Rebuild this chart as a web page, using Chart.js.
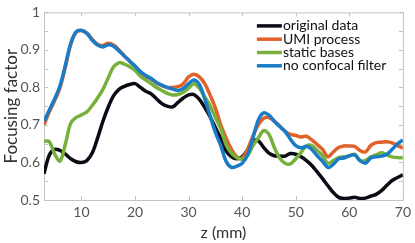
<!DOCTYPE html>
<html>
<head>
<meta charset="utf-8">
<script src="https://cdn.jsdelivr.net/npm/chart.js@4/dist/chart.umd.min.js"></script>
<style>
  html, body { margin: 0; padding: 0; background: #fff; }
  #wrap { width: 415px; height: 243px; }
</style>
</head>
<body>
<div id="wrap"><canvas id="focusChart" width="415" height="243"></canvas></div>
<script>
// z positions (mm)
const zValues = [3,4,5,6,7,8,9,10,11,12,13,14,15,16,17,18,19,20,21,22,23,24,25,26,27,28,29,30,
  31,32,33,34,35,36,37,38,39,40,41,42,43,44,45,46,47,48,49,50,51,52,53,54,55,56,57,58,59,60,
  61,62,63,64,65,66,67,68,69,70];

const originalData = [0.57,0.62,0.635,0.632,0.622,0.61,0.602,0.60,0.605,0.625,0.665,0.71,0.748,0.778,
  0.795,0.803,0.808,0.81,0.80,0.79,0.783,0.77,0.757,0.75,0.748,0.76,0.772,0.78,0.781,0.768,0.747,
  0.722,0.693,0.663,0.63,0.615,0.61,0.615,0.633,0.658,0.658,0.64,0.625,0.618,0.617,0.617,0.624,
  0.622,0.615,0.605,0.592,0.575,0.557,0.538,0.52,0.507,0.504,0.505,0.507,0.504,0.505,0.51,0.515,
  0.525,0.539,0.552,0.56,0.567];

const umiProcess = [0.70,0.735,0.765,0.80,0.855,0.915,0.947,0.952,0.945,0.928,0.915,0.912,0.918,0.913,
  0.90,0.884,0.87,0.855,0.84,0.83,0.822,0.812,0.805,0.80,0.80,0.802,0.81,0.828,0.835,0.828,0.81,
  0.78,0.745,0.70,0.665,0.635,0.615,0.612,0.635,0.67,0.70,0.718,0.72,0.71,0.697,0.683,0.675,
  0.672,0.668,0.67,0.66,0.648,0.635,0.615,0.628,0.64,0.644,0.644,0.643,0.632,0.628,0.645,0.653,
  0.654,0.655,0.652,0.645,0.638];

const staticBases = [0.657,0.655,0.622,0.604,0.65,0.705,0.72,0.727,0.735,0.752,0.772,0.795,0.826,0.855,
  0.866,0.862,0.855,0.845,0.83,0.82,0.81,0.80,0.792,0.784,0.78,0.781,0.787,0.798,0.81,0.798,0.775,
  0.752,0.72,0.69,0.647,0.625,0.613,0.609,0.618,0.645,0.665,0.685,0.675,0.64,0.612,0.598,0.596,
  0.61,0.627,0.644,0.645,0.632,0.618,0.598,0.605,0.613,0.615,0.617,0.622,0.605,0.605,0.615,0.62,
  0.626,0.62,0.615,0.613,0.613];

const noConfocal = [0.709,0.74,0.77,0.805,0.86,0.918,0.948,0.952,0.944,0.926,0.913,0.908,0.914,0.91,
  0.897,0.884,0.87,0.857,0.842,0.832,0.824,0.813,0.806,0.80,0.796,0.792,0.797,0.81,0.82,0.808,0.77,
  0.725,0.68,0.645,0.603,0.587,0.59,0.598,0.62,0.665,0.713,0.732,0.726,0.71,0.696,0.683,0.662,
  0.645,0.639,0.643,0.635,0.618,0.603,0.587,0.595,0.61,0.612,0.618,0.62,0.605,0.598,0.612,0.615,
  0.617,0.622,0.635,0.65,0.66];

const seriesLabels = ['original data', 'UMI process', 'static bases', 'no confocal filter'];
const seriesColors = ['#0b0b16', '#e0622a', '#77b13c', '#1a7cc6'];

const xTicks = [10, 20, 30, 40, 50, 60, 70];
const yTicks = [0.5, 0.6, 0.7, 0.8, 0.9, 1];
const yMinorTicks = [0.55, 0.65, 0.75, 0.85, 0.95];

const FONT = 'Lato, "Open Sans", sans-serif';
const AXIS_GRAY = '#c4c4c4';
const TEXT_GRAY = '#555';

function toPoints(values) {
    return values.map((v, i) => ({ x: zValues[i], y: v }));
}

// box round the plot with inward ticks, like the original figure
const boxPlugin = {
    id: 'boxPlugin',
    beforeDatasetsDraw(chart) {
        const { ctx, chartArea: a, scales } = chart;
        ctx.save();
        ctx.strokeStyle = AXIS_GRAY;
        ctx.lineWidth = 1;
        ctx.strokeRect(a.left + 0.5, a.top + 0.5, a.right - a.left, a.bottom - a.top);
        ctx.beginPath();
        xTicks.forEach(v => {
            const px = Math.round(scales.x.getPixelForValue(v)) + 0.5;
            ctx.moveTo(px, a.bottom); ctx.lineTo(px, a.bottom - 4);
            ctx.moveTo(px, a.top); ctx.lineTo(px, a.top + 4);
        });
        yTicks.concat(yMinorTicks).forEach(v => {
            const py = Math.round(scales.y.getPixelForValue(v)) + 0.5;
            ctx.moveTo(a.left, py); ctx.lineTo(a.left + 4, py);
            ctx.moveTo(a.right, py); ctx.lineTo(a.right - 4, py);
        });
        ctx.stroke();
        ctx.restore();
    }
};

// legend drawn inside the plot, top right
const legendPlugin = {
    id: 'insideLegend',
    afterDraw(chart) {
        const { ctx, chartArea: a } = chart;
        const x0 = a.right - 146;
        const y0 = a.top + 13.5;
        const rowH = 13.3;
        ctx.save();
        ctx.font = '14px ' + FONT;
        ctx.textBaseline = 'middle';
        chart.data.datasets.forEach((ds, i) => {
            const y = y0 + i * rowH;
            ctx.strokeStyle = ds.borderColor;
            ctx.lineWidth = 3.5;
            ctx.beginPath();
            ctx.moveTo(x0, y);
            ctx.lineTo(x0 + 25, y);
            ctx.stroke();
            ctx.fillStyle = '#111';
            ctx.fillText(ds.label, x0 + 26, y);
        });
        ctx.restore();
    }
};

const drawOrder = [3, 2, 1, 0];
const allSeries = [originalData, umiProcess, staticBases, noConfocal];

const ctx = document.getElementById('focusChart').getContext('2d');
const focusChart = new Chart(ctx, {
    type: 'line',
    data: {
        datasets: allSeries.map((values, i) => ({
            label: seriesLabels[i],
            data: toPoints(values),
            borderColor: seriesColors[i],
            borderWidth: 3.5,
            pointRadius: 0,
            tension: 0.35,
            fill: false,
            order: drawOrder[i],
        })),
    },
    options: {
        responsive: false,
        animation: false,
        devicePixelRatio: 1,
        layout: { padding: { top: 9, right: 12, left: 0, bottom: 0 } },
        plugins: {
            legend: { display: false },
            tooltip: { enabled: false },
        },
        scales: {
            x: {
                type: 'linear',
                min: 3,
                max: 70,
                afterBuildTicks: (scale) => { scale.ticks = xTicks.map(v => ({ value: v })); },
                afterFit: (scale) => { scale.height = 43; },
                grid: { display: false, drawTicks: false },
                border: { display: false },
                ticks: {
                    color: TEXT_GRAY,
                    font: { family: FONT, size: 14 },
                    padding: 4,
                    maxRotation: 0,
                },
                title: {
                    display: true,
                    text: 'z (mm)',
                    color: '#333',
                    font: { family: FONT, size: 16 },
                    padding: { top: 0, bottom: 1 },
                },
            },
            y: {
                min: 0.5,
                max: 1,
                afterBuildTicks: (scale) => { scale.ticks = yTicks.map(v => ({ value: v })); },
                afterFit: (scale) => { scale.width = 44; },
                grid: { display: false, drawTicks: false },
                border: { display: false },
                ticks: {
                    color: TEXT_GRAY,
                    font: { family: FONT, size: 14 },
                    padding: 4,
                    callback: (v) => String(+v.toFixed(2)),
                },
                title: {
                    display: true,
                    text: 'Focusing factor',
                    color: '#333',
                    font: { family: FONT, size: 17 },
                    padding: { top: 1, bottom: 0 },
                },
            },
        },
    },
    plugins: [boxPlugin, legendPlugin],
});
</script>
</body>
</html>
